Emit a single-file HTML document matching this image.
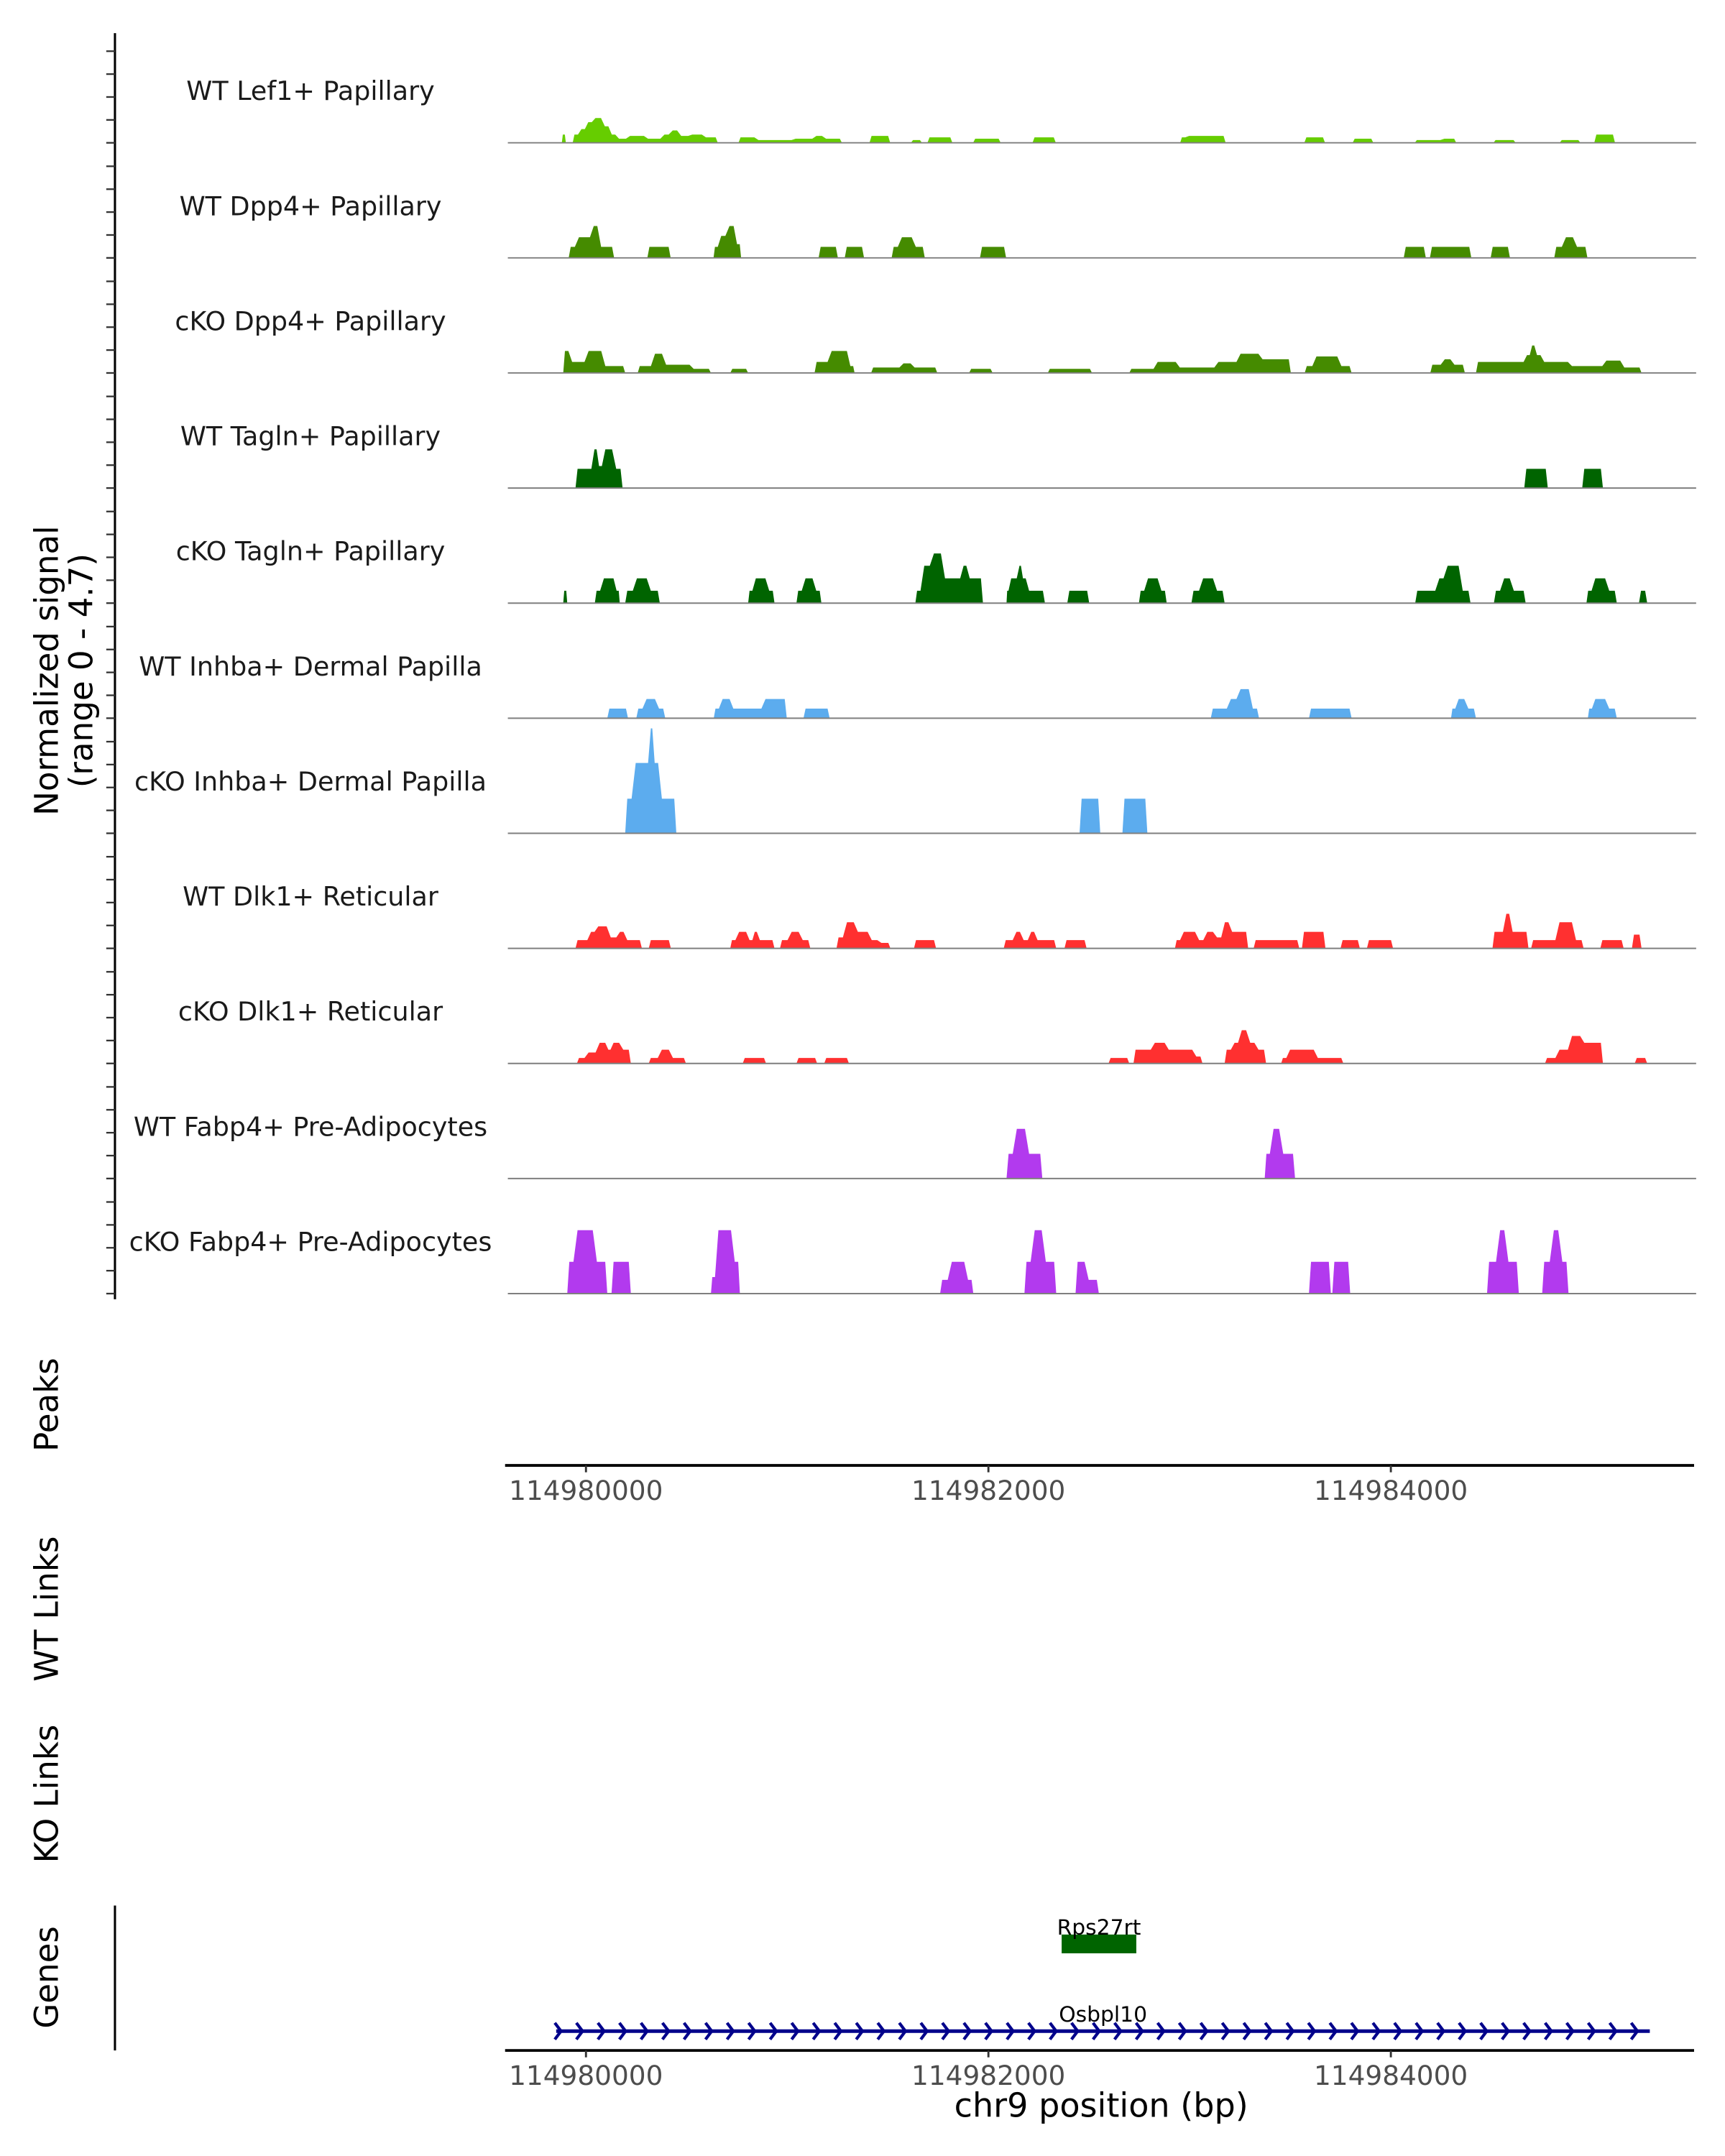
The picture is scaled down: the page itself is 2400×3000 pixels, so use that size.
<!DOCTYPE html>
<html><head><meta charset="utf-8">
<style>
html,body{margin:0;padding:0;background:#fff;}
svg{display:block;font-family:"DejaVu Sans","Liberation Sans",sans-serif;}
</style></head>
<body>
<svg id="chart" xmlns="http://www.w3.org/2000/svg" width="2400" height="3000" viewBox="0 0 1250 1562.5"></svg>
<script>
// ---------- data ----------
const REGION_START = 114979612; // bp offsets below are relative to this
const AXIS_MIN = 114979598, AXIS_MAX = 114985507;
const xTicks = [114980000, 114982000, 114984000];
const xTickLabels = ["114980000", "114982000", "114984000"];
const SIGNAL_MAX = 4.7;
const trackLabels = ["WT Lef1+ Papillary","WT Dpp4+ Papillary","cKO Dpp4+ Papillary","WT Tagln+ Papillary","cKO Tagln+ Papillary","WT Inhba+ Dermal Papilla","cKO Inhba+ Dermal Papilla","WT Dlk1+ Reticular","cKO Dlk1+ Reticular","WT Fabp4+ Pre-Adipocytes","cKO Fabp4+ Pre-Adipocytes"];
const trackColors = ["#66CD00","#458B00","#458B00","#006400","#006400","#5CACEE","#5CACEE","#FF3030","#FF3030","#B23AEE","#B23AEE"];

const wtLef1 = [[268,288,0.36],[322,357,0.36],[357,391,0.6],[391,425,0.9],[425,473,1.08],[473,508,0.72],[508,542,0.36],[542,597,0.18],[597,686,0.3],[686,768,0.18],[768,809,0.36],[809,851,0.54],[851,906,0.3],[906,974,0.36],[974,1043,0.24],[1146,1235,0.24],[1235,1420,0.12],[1420,1523,0.18],[1523,1571,0.3],[1571,1660,0.18],[1797,1900,0.3],[2003,2058,0.12],[2085,2209,0.24],[2312,2449,0.18],[2607,2723,0.24],[3341,3375,0.24],[3375,3567,0.3],[3958,4061,0.24],[4198,4301,0.18],[4507,4644,0.12],[4644,4713,0.18],[4898,5008,0.12],[5227,5330,0.12],[5399,5502,0.36]];
const wtDpp4 = [[302,343,0.48],[343,418,0.9],[418,453,1.39],[453,528,0.48],[693,809,0.48],[1022,1050,0.48],[1050,1091,0.96],[1091,1132,1.39],[1132,1159,0.6],[1544,1640,0.48],[1674,1770,0.48],[1907,1948,0.48],[1948,2017,0.9],[2017,2072,0.48],[2346,2476,0.48],[4452,4562,0.48],[4582,4788,0.48],[4884,4980,0.48],[5200,5248,0.48],[5248,5303,0.9],[5303,5365,0.48]];
const koDpp4 = [[275,309,0.96],[309,391,0.48],[391,474,0.96],[474,583,0.3],[645,721,0.3],[721,776,0.84],[776,913,0.36],[913,1009,0.18],[1105,1194,0.18],[1524,1599,0.48],[1599,1695,0.96],[1695,1723,0.3],[1805,1956,0.24],[1956,2011,0.42],[2011,2134,0.24],[2292,2409,0.18],[2683,2903,0.18],[3088,3219,0.18],[3219,3329,0.48],[3329,3521,0.24],[3521,3631,0.48],[3631,3740,0.84],[3740,3891,0.6],[3960,4008,0.3],[4008,4132,0.72],[4132,4193,0.3],[4584,4646,0.36],[4646,4694,0.6],[4694,4756,0.36],[4811,5058,0.48],[5058,5085,0.78],[5085,5106,1.2],[5106,5140,0.78],[5140,5278,0.48],[5278,5387,0.3],[5387,5449,0.3],[5449,5538,0.54],[5538,5634,0.24]];
const wtTagln = [[336,425,0.84],[425,446,1.69],[446,474,0.96],[474,528,1.69],[528,570,0.84],[5051,5168,0.84],[5339,5442,0.84]];
const koTagln = [[275,295,0.54],[432,467,0.54],[467,535,1.08],[535,556,0.54],[583,631,0.54],[631,700,1.08],[700,755,0.54],[1194,1222,0.54],[1222,1290,1.08],[1290,1325,0.54],[1434,1469,0.54],[1469,1524,1.08],[1524,1558,0.54],[2025,2059,0.54],[2059,2107,1.63],[2107,2162,2.17],[2162,2258,1.08],[2258,2285,1.63],[2285,2361,1.08],[2478,2491,0.54],[2491,2539,1.08],[2539,2553,1.63],[2553,2580,1.08],[2580,2669,0.54],[2780,2889,0.54],[3136,3171,0.54],[3171,3239,1.08],[3239,3274,0.54],[3397,3445,0.54],[3445,3514,1.08],[3514,3562,0.54],[4509,4619,0.54],[4619,4660,1.08],[4660,4735,1.63],[4735,4784,0.54],[4900,4941,0.54],[4941,4989,1.08],[4989,5058,0.54],[5360,5394,0.54],[5394,5463,1.08],[5463,5511,0.54],[5621,5662,0.54]];
const wtInhba = [[494,597,0.42],[638,679,0.42],[679,741,0.84],[741,782,0.42],[1023,1057,0.42],[1057,1112,0.84],[1112,1146,0.42],[1146,1270,0.42],[1270,1386,0.84],[1469,1599,0.42],[3493,3583,0.42],[3583,3631,0.84],[3631,3692,1.27],[3692,3733,0.42],[3981,4193,0.42],[4687,4715,0.42],[4715,4763,0.84],[4763,4811,0.42],[5367,5394,0.42],[5394,5463,0.84],[5463,5511,0.42]];
const koInhba = [[583,625,1.51],[625,707,3.07],[707,721,4.58],[721,755,3.07],[755,837,1.51],[2841,2944,1.51],[3054,3178,1.51]];
const wtDlk1 = [[336,405,0.36],[405,439,0.72],[439,501,0.96],[501,549,0.48],[549,583,0.72],[583,666,0.36],[700,810,0.36],[1105,1139,0.36],[1139,1194,0.72],[1194,1222,0.36],[1222,1242,0.72],[1242,1325,0.36],[1352,1400,0.36],[1400,1455,0.72],[1455,1503,0.36],[1633,1675,0.48],[1675,1729,1.14],[1729,1798,0.72],[1798,1846,0.36],[1846,1901,0.24],[2018,2128,0.36],[2464,2519,0.36],[2519,2553,0.72],[2553,2594,0.36],[2594,2622,0.72],[2622,2725,0.36],[2766,2876,0.36],[3315,3349,0.36],[3349,3425,0.72],[3425,3466,0.36],[3466,3514,0.72],[3514,3555,0.48],[3555,3589,1.14],[3589,3679,0.72],[3706,3933,0.36],[3946,4063,0.72],[4138,4234,0.36],[4269,4399,0.36],[4893,4955,0.72],[4955,4983,1.51],[4983,5072,0.72],[5085,5216,0.36],[5216,5298,1.14],[5298,5346,0.36],[5429,5545,0.36],[5586,5634,0.6]];
const koDlk1 = [[343,391,0.24],[391,446,0.48],[446,494,0.9],[494,515,0.6],[515,563,0.9],[563,611,0.6],[700,755,0.24],[755,810,0.6],[810,885,0.24],[1167,1283,0.24],[1434,1537,0.24],[1572,1695,0.24],[2985,3088,0.24],[3109,3205,0.6],[3205,3274,0.9],[3274,3411,0.6],[3411,3452,0.3],[3562,3603,0.6],[3603,3637,0.9],[3637,3679,1.45],[3679,3720,0.9],[3720,3768,0.6],[3843,3877,0.24],[3877,4015,0.6],[4015,4152,0.24],[5154,5216,0.24],[5216,5278,0.6],[5278,5339,1.2],[5339,5442,0.9],[5600,5662,0.24]];
const wtFabp4 = [[2478,2519,1.08],[2519,2580,2.17],[2580,2656,1.08],[3761,3795,1.08],[3795,3843,2.17],[3843,3912,1.08]];
const koFabp4 = [[295,336,1.39],[336,432,2.77],[432,494,1.39],[515,611,1.39],[1009,1036,0.72],[1036,1119,2.77],[1119,1153,1.39],[2148,2196,0.6],[2196,2278,1.39],[2278,2313,0.6],[2567,2608,1.39],[2608,2663,2.77],[2663,2725,1.39],[2821,2876,1.39],[2876,2937,0.6],[3981,4090,1.39],[4097,4186,1.39],[4866,4921,1.39],[4921,4962,2.77],[4962,5024,1.39],[5140,5188,1.39],[5188,5230,2.77],[5230,5271,1.39]];
const trackData = [wtLef1, wtDpp4, koDpp4, wtTagln, koTagln, wtInhba, koInhba, wtDlk1, koDlk1, wtFabp4, koFabp4];

const geneNames = ["Rps27rt", "Osbpl10"];
const geneStarts = [114982364, 114979852];
const geneEnds = [114982735, 114985287];

// ---------- layout ----------
const NS = "http://www.w3.org/2000/svg";
const svg = document.getElementById("chart");
const PX0 = 366, PX1 = 1227.6;
const FIRST_BASE = 103.5, TRACK_STEP = 83.4, TRACK_H = 16.6 * SIGNAL_MAX;
function xScale(bp){ return PX0 + (bp - AXIS_MIN) / (AXIS_MAX - AXIS_MIN) * (PX1 - PX0); }
function yScale(v, i){ return FIRST_BASE + i * TRACK_STEP - v / SIGNAL_MAX * TRACK_H; }
function mk(tag, attrs, parent){
  const e = document.createElementNS(NS, tag);
  for (const k in attrs) e.setAttribute(k, attrs[k]);
  (parent || svg).appendChild(e);
  return e;
}

// left signal axis
let el = mk("line", {x1:83.3, x2:83.3, y1:24, y2:941.6, stroke:"#000", "stroke-width":1.6});


for (let i = 0; i < trackData.length; i++){
  for (let k = 0; k <= 4; k++){
    const ty = yScale(k, i);
    const t = mk("line", {x1:77, x2:83.3, y1:ty, y2:ty, stroke:"#333", "stroke-width":1.2});
    
    
  }
}

// tracks: contiguous runs drawn as area polygons with sloped transitions
trackData.forEach((segs, i) => {
  const g = mk("g", {});
  
  
  const base = yScale(0, i);
  let run = [];
  const flush = () => {
    if (!run.length) return;
    const pts = [];
    run.forEach((s, j) => {
      const x1 = xScale(REGION_START + s[0]), x2 = xScale(REGION_START + s[1]);
      const w = x2 - x1;
      const sl = Math.min(1.5, w / 4);
      const y = yScale(s[2], i);
      if (j === 0) pts.push([x1, base]);
      pts.push([x1 + sl, y], [x2 - sl, y]);
      if (j === run.length - 1) pts.push([x2, base]);
    });
    const p = mk("polygon", {points: pts.map(q => q[0].toFixed(2) + "," + q[1].toFixed(2)).join(" "), fill: trackColors[i]}, g);
    
    
    run = [];
  };
  segs.forEach((s, j) => {
    if (run.length && s[0] - run[run.length - 1][1] > 5) flush();
    run.push(s);
  });
  flush();
  const bl = mk("line", {x1:PX0 + 2, x2:PX1 + 1.5, y1:base, y2:base, stroke:"#7f7f7f", "stroke-width":1}, g);
  
  
  const lab = mk("text", {x:225, y:base - 31, "text-anchor":"middle", "font-size":19, fill:"#1a1a1a"});
  lab.textContent = trackLabels[i];
  
  
});

// x axes
function xAxis(y, name){
  const l = mk("line", {x1:PX0, x2:PX1, y1:y, y2:y, stroke:"#000", "stroke-width":2});
  
  
  xTicks.forEach((t, j) => {
    const tx = xScale(t);
    const tk = mk("line", {x1:tx, x2:tx, y1:y, y2:y + 5, stroke:"#333", "stroke-width":1.5});
    
    
    const tl = mk("text", {x:tx, y:y + 25, "text-anchor":"middle", "font-size":19.5, fill:"#4d4d4d"});
    tl.textContent = xTickLabels[j];
    
    
  });
}
xAxis(1062, 'peaks-x-axis');
xAxis(1486, 'genes-x-axis');

// genes
el = mk("line", {x1:83.3, x2:83.3, y1:1381, y2:1486, stroke:"#000", "stroke-width":1.6});


{
  const gx1 = xScale(geneStarts[0]), gx2 = xScale(geneEnds[0]);
  const r = mk("rect", {x:gx1, y:1402, width:gx2 - gx1, height:13.6, fill:"#006400"});
  
  
  const t = mk("text", {x:(gx1 + gx2) / 2, y:1402, "text-anchor":"middle", "font-size":15.5, fill:"#000"});
  t.textContent = geneNames[0];
  
  
}
{
  const gx1 = xScale(geneStarts[1]), gx2 = xScale(geneEnds[1]);
  const g = mk("g", {});
  
  
  mk("line", {x1:gx1, x2:gx2, y1:1472, y2:1472, stroke:"#00008B", "stroke-width":2.6}, g);
  let d = "";
  for (let cx = gx1 + 2; cx <= gx2 + 0.5; cx += 15.6){ d += `M${cx-3},${1466} L${cx+1.5},${1472} L${cx-3},${1478} `; }
  mk("path", {d:d, fill:"none", stroke:"#00008B", "stroke-width":2.2}, g);
  const t = mk("text", {x:(gx1 + gx2) / 2, y:1465, "text-anchor":"middle", "font-size":15.5, fill:"#000"});
  t.textContent = geneNames[1];
  
  
}

// axis titles
function vTitle(txt, x, y, name, size){
  const t = mk("text", {x:x, y:y, "text-anchor":"middle", "font-size":size, fill:"#000", transform:`rotate(-90 ${x} ${y})`});
  t.textContent = txt;
  
  
}
vTitle("Normalized signal", 42, 486, 'y-axis-title', 23.5);
vTitle("(range 0 - 4.7)", 67, 486, 'y-axis-subtitle', 23.5);
vTitle("Peaks", 42, 1018, 'peaks-title', 23.5);
vTitle("WT Links", 42, 1166, 'wt-links-title', 23.5);
vTitle("KO Links", 42, 1300, 'ko-links-title', 23.5);
vTitle("Genes", 42, 1433, 'genes-title', 23.5);
el = mk("text", {x:798, y:1534, "text-anchor":"middle", "font-size":24, fill:"#000"});
el.textContent = "chr9 position (bp)";


</script>
</body></html>
